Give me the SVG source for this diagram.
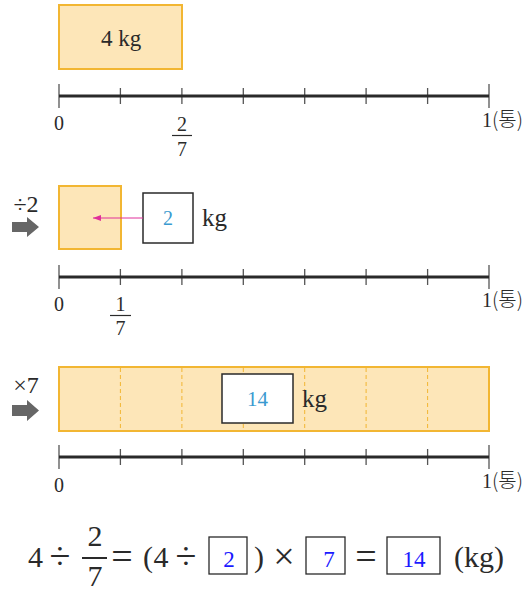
<svg xmlns="http://www.w3.org/2000/svg" width="531" height="591" viewBox="0 0 531 591">
<defs>
<style>
.bar{fill:#FDE6B8;stroke:#F2B632;stroke-width:2}
.axis{stroke:#2a2a2a;stroke-width:3}
.tk{stroke:#555;stroke-width:1.3}
.t{font-family:'Liberation Serif','Times New Roman','DejaVu Serif',serif;fill:#2a2a2a}
.kr{font-family:'Noto Sans CJK KR',sans-serif;font-weight:300}
.bx{fill:#fff;stroke:#2a2a2a;stroke-width:1.5}
.ans{font-family:'Liberation Serif','Times New Roman','DejaVu Serif',serif;fill:#3a9ad0}
.eq{font-family:'Liberation Serif','Times New Roman','DejaVu Serif',serif;fill:#2a2a2a;font-size:30px}
.op{font-family:'Liberation Serif','Times New Roman','DejaVu Serif',serif;fill:#2a2a2a;font-size:38px}
.eqb{fill:#fff;stroke:#2a2a2a;stroke-width:1.3}
.eqa{font-family:'Liberation Serif','Times New Roman','DejaVu Serif',serif;fill:#1a1aff;font-size:23px}
.dash{stroke:#F2B632;stroke-width:1;stroke-dasharray:4 3}
.garrow{fill:#666}
</style>
<marker id="pk" markerWidth="8" markerHeight="6" refX="8" refY="3" orient="auto" markerUnits="userSpaceOnUse">
<path d="M0,0 L8,3 L0,6 Z" fill="#e0309a"/>
</marker>
<g id="ticks">
<line class="tk" x1="59" y1="-12" x2="59" y2="12"/>
<line class="tk" x1="120.4" y1="-8" x2="120.4" y2="8"/>
<line class="tk" x1="181.9" y1="-8" x2="181.9" y2="8"/>
<line class="tk" x1="243.3" y1="-8" x2="243.3" y2="8"/>
<line class="tk" x1="304.7" y1="-8" x2="304.7" y2="8"/>
<line class="tk" x1="366.1" y1="-8" x2="366.1" y2="8"/>
<line class="tk" x1="427.6" y1="-8" x2="427.6" y2="8"/>
<line class="tk" x1="489" y1="-12" x2="489" y2="12"/>
<line class="axis" x1="59" y1="0" x2="489" y2="0"/>
</g>
</defs>

<g id="section1">
<rect class="bar" x="59" y="5" width="123" height="64"/>
<text class="t" x="121" y="46" font-size="23" text-anchor="middle">4 kg</text>
<use href="#ticks" y="96"/>
<text class="t" x="59" y="130" font-size="20" text-anchor="middle">0</text>
<text class="t" x="182" y="131" font-size="20" text-anchor="middle">2</text>
<line x1="172" y1="135.5" x2="192" y2="135.5" stroke="#2a2a2a" stroke-width="1.2"/>
<text class="t" x="182" y="156" font-size="20" text-anchor="middle">7</text>
<text class="t" x="482" y="127" font-size="20">1<tspan class="kr" font-size="20">(통)</tspan></text>
</g>

<g id="section2">
<text class="t" x="26" y="212" font-size="24" text-anchor="middle">÷2</text>
<path class="garrow" d="M12,222 L27,222 L27,217 L39,227 L27,237 L27,232 L12,232 Z"/>
<rect class="bar" x="59" y="186" width="62" height="63"/>
<rect class="bx" x="143" y="193" width="50" height="50"/>
<text class="ans" x="168" y="225" font-size="20" text-anchor="middle">2</text>
<text class="t" x="202" y="226" font-size="25">kg</text>
<line x1="143" y1="218" x2="93" y2="218" stroke="#e0309a" stroke-width="1" marker-end="url(#pk)"/>
<use href="#ticks" y="277"/>
<text class="t" x="59" y="311" font-size="20" text-anchor="middle">0</text>
<text class="t" x="120.4" y="311" font-size="20" text-anchor="middle">1</text>
<line x1="110" y1="315.5" x2="131" y2="315.5" stroke="#2a2a2a" stroke-width="1.2"/>
<text class="t" x="120.4" y="335" font-size="20" text-anchor="middle">7</text>
<text class="t" x="482" y="307" font-size="20">1<tspan class="kr" font-size="20">(통)</tspan></text>
</g>

<g id="section3">
<text class="t" x="26" y="393" font-size="24" text-anchor="middle">×7</text>
<path class="garrow" d="M12,405 L27,405 L27,400 L39,410.5 L27,421 L27,416 L12,416 Z"/>
<rect class="bar" x="59" y="367" width="430" height="64"/>
<line class="dash" x1="120.4" y1="368" x2="120.4" y2="430"/>
<line class="dash" x1="181.9" y1="368" x2="181.9" y2="430"/>
<line class="dash" x1="243.3" y1="368" x2="243.3" y2="430"/>
<line class="dash" x1="304.7" y1="368" x2="304.7" y2="430"/>
<line class="dash" x1="366.1" y1="368" x2="366.1" y2="430"/>
<line class="dash" x1="427.6" y1="368" x2="427.6" y2="430"/>
<rect class="bx" x="222" y="374" width="71" height="49"/>
<text class="ans" x="257.5" y="406" font-size="21" text-anchor="middle">14</text>
<text class="t" x="302" y="407" font-size="25">kg</text>
<use href="#ticks" y="457"/>
<text class="t" x="59" y="492" font-size="20" text-anchor="middle">0</text>
<text class="t" x="482" y="488" font-size="20">1<tspan class="kr" font-size="20">(통)</tspan></text>
</g>

<g id="equation">
<text class="eq" x="35.5" y="567" text-anchor="middle">4</text>
<text class="op" x="60" y="569" text-anchor="middle">÷</text>
<text class="eq" x="95" y="546" text-anchor="middle">2</text>
<line x1="82" y1="558" x2="107" y2="558" stroke="#2a2a2a" stroke-width="2"/>
<text class="eq" x="95" y="586" text-anchor="middle">7</text>
<text class="op" x="122" y="569" text-anchor="middle">=</text>
<text class="eq" x="148" y="567" text-anchor="middle">(</text>
<text class="eq" x="161" y="567" text-anchor="middle">4</text>
<text class="op" x="186" y="569" text-anchor="middle">÷</text>
<rect class="eqb" x="209" y="537" width="38" height="37"/>
<text class="eqa" x="229" y="567" text-anchor="middle">2</text>
<text class="eq" x="259" y="567" text-anchor="middle">)</text>
<text class="op" x="284" y="569" text-anchor="middle">×</text>
<rect class="eqb" x="306" y="537" width="39" height="37"/>
<text class="eqa" x="329" y="567" text-anchor="middle">7</text>
<text class="op" x="366" y="569" text-anchor="middle">=</text>
<rect class="eqb" x="387" y="537" width="53" height="37"/>
<text class="eqa" x="414" y="567" text-anchor="middle">14</text>
<text class="eq" x="479" y="567" text-anchor="middle">(kg)</text>
</g>
</svg>
